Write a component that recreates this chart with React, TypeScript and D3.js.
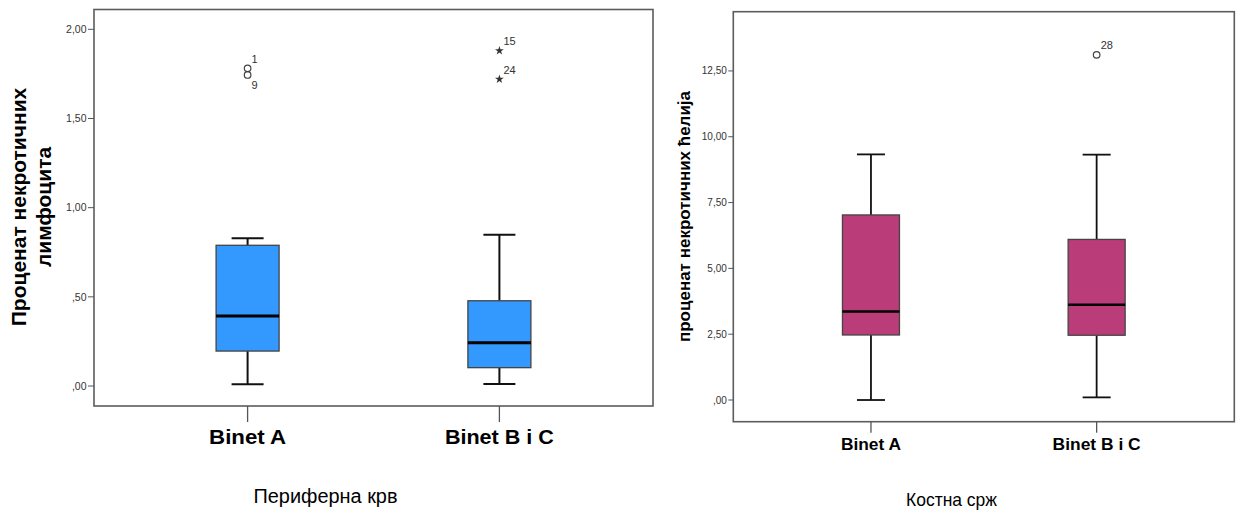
import React from "react";
import * as d3 from "d3";

// ---------- data ----------
const categories = ["Binet A", "Binet B i C"];

// Периферна крв (peripheral blood)
const bloodMin = [0.01, 0.011];
const bloodQ1 = [0.196, 0.103];
const bloodMedian = [0.392, 0.243];
const bloodQ3 = [0.789, 0.478];
const bloodMax = [0.828, 0.848];
const bloodOutlierCategory = [0, 0, 1, 1];
const bloodOutlierValue = [1.781, 1.744, 1.88, 1.72];
const bloodOutlierCase = ["1", "9", "15", "24"];
const bloodOutlierExtreme = [false, false, true, true];
const bloodTicks = [0, 0.5, 1, 1.5, 2];

// Костна срж (bone marrow)
const marrowMin = [0, 0.1];
const marrowQ1 = [2.47, 2.46];
const marrowMedian = [3.36, 3.62];
const marrowQ3 = [7.03, 6.1];
const marrowMax = [9.33, 9.32];
const marrowOutlierCategory = [1];
const marrowOutlierValue = [13.11];
const marrowOutlierCase = ["28"];
const marrowOutlierExtreme = [false];
const marrowTicks = [0, 2.5, 5, 7.5, 10, 12.5];

const FONT = "'Liberation Sans', Arial, sans-serif";

const fmt = (v: number) => {
  const s = d3.format(".2f")(v).replace(".", ",");
  return s.startsWith("0,") ? s.slice(1) : s;
};

type PanelProps = {
  min: number[];
  q1: number[];
  median: number[];
  q3: number[];
  max: number[];
  outCat: number[];
  outVal: number[];
  outCase: string[];
  outExtreme: boolean[];
  ticks: number[];
  frame: { left: number; top: number; right: number; bottom: number };
  yDomain: [number, number];
  fill: string;
  boxWidth: number;
  capWidth: number;
  whiskerWidth: number;
  medianWidth: number;
  tickFont: number;
  tickLen: number;
  catTickLen: number;
  catFont: number;
  catBaseline: number;
  catLengths: number[];
  title: string;
  titleFont: number;
  titleBaseline: number;
  titleLength: number;
  titleCenter: number;
  yTitleLines: string[];
  yTitleFont: number;
  yTitleBaselines: number[];
  yTitleCenter: number;
};

function Panel(p: PanelProps) {
  const { frame } = p;
  const y = d3.scaleLinear().domain(p.yDomain).range([frame.bottom, frame.top]);
  const x = d3
    .scalePoint<string>()
    .domain(categories)
    .range([frame.left, frame.right])
    .padding(0.61);
  const starPath = d3.symbol(d3.symbolStar, 24)() as string;

  const outliers = p.outVal.map((v, i) => ({
    cx: x(categories[p.outCat[i]]) as number,
    cy: y(v),
    cat: p.outCat[i],
    label: p.outCase[i],
    extreme: p.outExtreme[i],
  }));

  return (
    <g>
      {/* frame */}
      <rect
        x={frame.left}
        y={frame.top}
        width={frame.right - frame.left}
        height={frame.bottom - frame.top}
        fill="none"
        stroke="#5c5c5c"
        strokeWidth={1.6}
      />
      {/* y ticks */}
      {p.ticks.map((t) => (
        <g key={t}>
          <line
            x1={frame.left - p.tickLen}
            x2={frame.left}
            y1={y(t)}
            y2={y(t)}
            stroke="#555"
            strokeWidth={1}
          />
          <text
            x={frame.left - p.tickLen - 1.5}
            y={y(t)}
            dy="0.35em"
            textAnchor="end"
            fontFamily={FONT}
            fontSize={p.tickFont}
            fill="#333"
          >
            {fmt(t)}
          </text>
        </g>
      ))}
      {/* category ticks and labels */}
      {categories.map((c, i) => (
        <g key={c}>
          <line
            x1={x(c)}
            x2={x(c)}
            y1={frame.bottom}
            y2={frame.bottom + p.catTickLen}
            stroke="#555"
            strokeWidth={1.3}
          />
          <text
            x={x(c)}
            y={p.catBaseline}
            textAnchor="middle"
            fontFamily={FONT}
            fontWeight="bold"
            fontSize={p.catFont}
            fill="#000"
            textLength={p.catLengths[i]}
            lengthAdjust="spacingAndGlyphs"
          >
            {c}
          </text>
        </g>
      ))}
      {/* boxes */}
      {categories.map((c, i) => {
        const cx = x(c) as number;
        const hw = p.boxWidth / 2;
        const cw = p.capWidth / 2;
        return (
          <g key={"b" + c}>
            <line x1={cx} x2={cx} y1={y(p.max[i])} y2={y(p.q3[i])} stroke="#111" strokeWidth={p.whiskerWidth} />
            <line x1={cx} x2={cx} y1={y(p.q1[i])} y2={y(p.min[i])} stroke="#111" strokeWidth={p.whiskerWidth} />
            <line x1={cx - cw} x2={cx + cw} y1={y(p.max[i])} y2={y(p.max[i])} stroke="#111" strokeWidth={p.whiskerWidth} />
            <line x1={cx - cw} x2={cx + cw} y1={y(p.min[i])} y2={y(p.min[i])} stroke="#111" strokeWidth={p.whiskerWidth} />
            <rect
              x={cx - hw}
              y={y(p.q3[i])}
              width={p.boxWidth}
              height={y(p.q1[i]) - y(p.q3[i])}
              fill={p.fill}
              stroke="#444"
              strokeWidth={1.3}
            />
            <line
              x1={cx - hw}
              x2={cx + hw}
              y1={y(p.median[i])}
              y2={y(p.median[i])}
              stroke="#000"
              strokeWidth={p.medianWidth}
            />
          </g>
        );
      })}
      {/* outliers */}
      {outliers.map((o, i) => {
        const crowdedAbove = outliers.some(
          (q, j) => j !== i && q.cat === o.cat && q.cy < o.cy && o.cy - q.cy < 12
        );
        const ly = crowdedAbove ? o.cy + 10.5 : o.cy - 9.5;
        return (
          <g key={"o" + i}>
            {o.extreme ? (
              <path d={starPath} transform={`translate(${o.cx},${o.cy})`} fill="#333" />
            ) : (
              <circle cx={o.cx} cy={o.cy} r={3.3} fill="none" stroke="#444" strokeWidth={1.2} />
            )}
            <text
              x={o.cx + 4}
              y={ly}
              dy="0.35em"
              fontFamily={FONT}
              fontSize={11}
              fill="#333"
            >
              {o.label}
            </text>
          </g>
        );
      })}
      {/* x title */}
      <text
        x={p.titleCenter}
        y={p.titleBaseline}
        textAnchor="middle"
        fontFamily={FONT}
        fontSize={p.titleFont}
        fill="#000"
        textLength={p.titleLength}
        lengthAdjust="spacingAndGlyphs"
      >
        {p.title}
      </text>
      {/* y title */}
      {p.yTitleLines.map((line, i) => (
        <text
          key={line}
          transform={`translate(${p.yTitleBaselines[i]},${p.yTitleCenter}) rotate(-90)`}
          textAnchor="middle"
          fontFamily={FONT}
          fontWeight="bold"
          fontSize={p.yTitleFont}
          fill="#000"
        >
          {line}
        </text>
      ))}
    </g>
  );
}

export default function App() {
  return (
    <svg
      width={1236}
      height={511}
      style={{ position: "absolute", left: 0, top: 0, display: "block", background: "#fff" }}
    >
      <rect x={0} y={0} width={1236} height={511} fill="#fff" />
      <Panel
        min={bloodMin}
        q1={bloodQ1}
        median={bloodMedian}
        q3={bloodQ3}
        max={bloodMax}
        outCat={bloodOutlierCategory}
        outVal={bloodOutlierValue}
        outCase={bloodOutlierCase}
        outExtreme={bloodOutlierExtreme}
        ticks={bloodTicks}
        frame={{ left: 94, top: 9.5, right: 653, bottom: 406 }}
        yDomain={[-0.112, 2.111]}
        fill="#3399ff"
        boxWidth={63}
        capWidth={32}
        whiskerWidth={2}
        medianWidth={3}
        tickFont={10.5}
        tickLen={6}
        catTickLen={16}
        catFont={20.5}
        catBaseline={444}
        catLengths={[77, 109]}
        title="Периферна крв"
        titleFont={20}
        titleBaseline={503}
        titleLength={144}
        titleCenter={325.5}
        yTitleLines={["Проценат некротичних", "лимфоцита"]}
        yTitleFont={21}
        yTitleBaselines={[26, 51]}
        yTitleCenter={207}
      />
      <Panel
        min={marrowMin}
        q1={marrowQ1}
        median={marrowMedian}
        q3={marrowQ3}
        max={marrowMax}
        outCat={marrowOutlierCategory}
        outVal={marrowOutlierValue}
        outCase={marrowOutlierCase}
        outExtreme={marrowOutlierExtreme}
        ticks={marrowTicks}
        frame={{ left: 733.3, top: 11.7, right: 1234.3, bottom: 421.7 }}
        yDomain={[-0.824, 14.75]}
        fill="#ba3d7a"
        boxWidth={57}
        capWidth={28}
        whiskerWidth={1.8}
        medianWidth={2.6}
        tickFont={10}
        tickLen={5}
        catTickLen={11}
        catFont={17}
        catBaseline={450}
        catLengths={[60, 88]}
        title="Костна срж"
        titleFont={19}
        titleBaseline={505.5}
        titleLength={91}
        titleCenter={951.5}
        yTitleLines={["проценат некротичних ћелија"]}
        yTitleFont={17}
        yTitleBaselines={[690]}
        yTitleCenter={216.5}
      />
    </svg>
  );
}
